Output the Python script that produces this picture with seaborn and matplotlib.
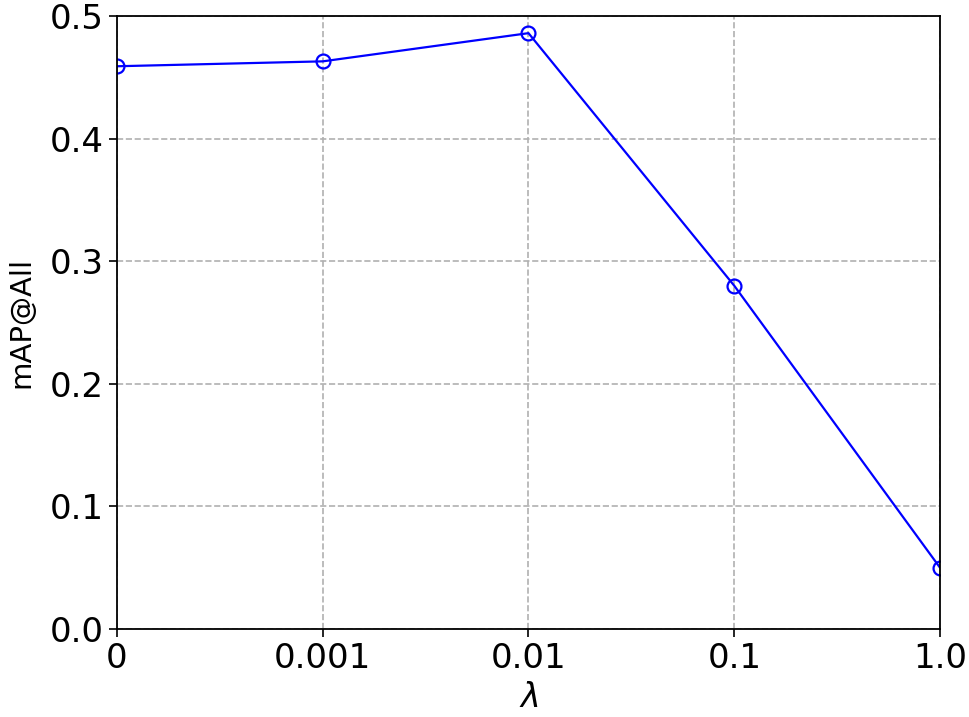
import seaborn as sns
import matplotlib.pyplot as plt
import numpy as np

# data
lambda_labels = ['0', '0.001', '0.01', '0.1', '1.0']
map_all = [0.459, 0.463, 0.486, 0.280, 0.050]
y_ticks = [0.0, 0.1, 0.2, 0.3, 0.4, 0.5]

sns.set_style("ticks")
plt.rcParams['font.family'] = ['DejaVu Sans']
plt.rcParams['text.color'] = 'black'
plt.rcParams['axes.labelcolor'] = 'black'
plt.rcParams['xtick.color'] = 'black'
plt.rcParams['ytick.color'] = 'black'

fig = plt.figure(figsize=(9.69, 7.17), dpi=100)
ax = fig.add_axes([0.1207, 0.1227, 0.8494, 0.855])

pos = np.arange(len(lambda_labels))
sns.lineplot(x=pos, y=map_all, ax=ax, color='blue', linewidth=1.6,
             marker='o', markersize=10, markerfacecolor='none',
             markeredgecolor='blue', markeredgewidth=1.6)

ax.set_xlim(pos[0], pos[-1])
ax.set_ylim(0, 0.5)
ax.set_xticks(pos)
ax.set_xticklabels(lambda_labels)
ax.set_yticks(y_ticks)
ax.set_yticklabels([f'{v:.1f}' for v in y_ticks])
ax.tick_params(labelsize=24.5, length=6, width=1.2, colors='black')
ax.grid(True, linestyle='--', color='#b0b0b0', linewidth=1.2)
for s in ax.spines.values():
    s.set_color('black')
    s.set_linewidth(1.3)

ax.set_ylabel('mAP@All', fontsize=21, labelpad=10)
ax.set_xlabel(r'$\lambda$', fontsize=24, labelpad=4)

fig.savefig('out.png', dpi=100)
